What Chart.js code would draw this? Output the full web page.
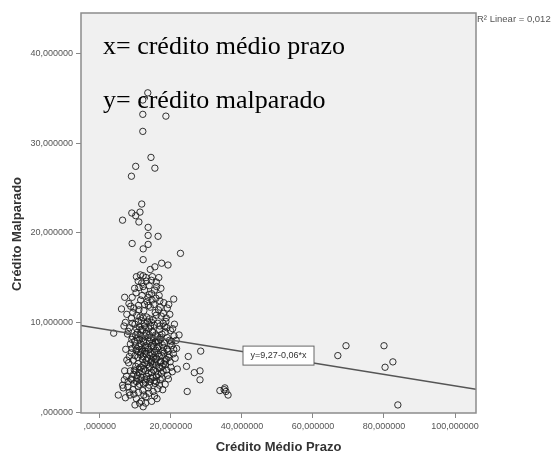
<!DOCTYPE html>
<html>
<head>
<meta charset="utf-8">
<script src="https://cdn.jsdelivr.net/npm/chart.js@4.4.0/dist/chart.umd.min.js"></script>
<style>
  html, body { margin: 0; padding: 0; background: #fff; }
  #wrap { width: 555px; height: 456px; position: relative; }
</style>
</head>
<body>
<div id="wrap"><canvas id="scatterChart" width="555" height="456"></canvas></div>
<script>
// Crédito Médio Prazo (x) e Crédito Malparado (y)
const creditoMedioPrazo = [
  13.5, 12.1, 12.1, 18.6, 12.1, 14.4, 10.1, 15.5, 8.9, 11.8,
  11.3, 9.0, 10.1, 6.4, 11.0, 13.6, 13.6, 16.4, 9.1, 13.6,
  12.2, 22.7, 12.2, 17.4, 19.2, 15.5, 14.2, 10.3, 12.2, 11.4,
  13.0, 14.8, 16.6, 11.8, 13.9, 15.9, 12.6, 17.2, 14.6, 7.0,
  9.1, 20.8, 11.5, 13.3, 15.8, 18.0, 8.2, 6.1, 9.6, 10.9,
  12.4, 14.2, 16.5, 19.0, 7.6, 19.7, 8.9, 10.4, 11.7, 13.2,
  15.0, 17.3, 18.6, 3.9, 22.3, 6.8, 8.4, 9.9, 11.1, 12.5,
  13.8, 15.3, 16.8, 18.3, 19.9, 21.0, 7.8, 9.2, 10.6, 11.9,
  13.1, 14.4, 15.7, 17.0, 18.4, 19.6, 20.9, 8.6, 9.8, 11.0,
  12.3, 13.5, 14.9, 16.2, 17.6, 18.9, 20.3, 21.6, 7.3, 8.9,
  10.2, 11.5, 12.8, 14.1, 15.4, 16.7, 18.1, 19.4, 20.7, 24.9,
  28.4, 9.4, 10.8, 12.0, 13.3, 14.6, 15.9, 17.2, 18.5, 19.8,
  8.1, 24.4, 9.7, 11.0, 12.4, 13.7, 15.1, 16.4, 17.8, 19.1,
  20.4, 26.6, 28.2, 7.5, 8.8, 10.3, 11.6, 12.9, 14.3, 15.6,
  17.0, 18.4, 28.2, 6.4, 7.9, 9.3, 10.8, 12.1, 13.6, 15.0,
  16.3, 6.6, 5.2, 7.2, 8.5, 9.9, 11.7, 14.6, 13.0, 24.6,
  33.8, 35.2, 35.5, 36.1, 35.0, 67.0, 69.3, 80.0, 82.5, 80.3,
  83.9, 10.5, 11.4, 12.7, 13.9, 14.9, 16.1, 17.5, 10.0, 11.8,
  12.9, 14.0, 15.2, 16.5, 17.9, 10.7, 12.2, 13.4, 14.7, 16.0,
  17.4, 18.7, 10.1, 11.4, 12.7, 14.0, 15.3, 16.7, 18.0, 10.6,
  11.9, 13.2, 14.6, 16.0, 17.3, 11.2, 12.5, 13.9, 15.3, 16.8,
  9.6, 12.0, 14.3, 16.3, 18.9, 13.4, 15.9, 11.3, 9.2, 20.2,
  19.2, 21.2, 20.0, 9.1, 8.3, 9.5, 8.6, 7.6, 12.6, 14.7,
  10.2, 16.7, 13.1, 11.0, 12.9, 10.3, 8.0, 17.7, 19.3, 21.8,
  10.9, 11.6, 12.4, 13.0, 13.7, 14.5, 15.1, 15.8, 16.6, 17.1,
  9.9, 10.4, 11.2, 12.0, 12.8, 13.6, 14.2, 15.0, 15.6, 16.3,
  17.7, 18.2, 19.0, 9.0, 10.1, 11.6, 12.9, 14.8, 16.9, 17.8,
  10.8, 12.2, 14.0, 15.6, 17.9, 9.3, 11.0, 13.7, 15.2, 16.9,
  11.9, 13.9, 15.4, 12.2, 14.5, 10.8, 9.8, 16.0, 8.7, 7.2,
  10.0, 11.1, 12.1, 12.9, 13.9, 14.9, 15.8, 16.9, 17.6, 18.8,
  10.4, 11.3, 12.2, 13.2, 14.1, 15.0, 15.9, 17.5, 9.1, 8.3,
  9.6, 10.9, 12.4, 13.8, 15.4, 16.1, 11.2, 12.2, 7.0, 6.9,
  18.4, 19.5, 19.8, 20.8, 21.5, 20.5, 18.7, 19.4, 17.0, 8.0,
  11.6, 13.1, 14.4, 15.6, 16.4, 17.1, 12.6, 14.6, 10.4, 13.6
];
const creditoMalparado = [
  35.6, 34.8, 33.2, 33.0, 31.3, 28.4, 27.4, 27.2, 26.3, 23.2,
  22.3, 22.2, 21.9, 21.4, 21.2, 20.6, 19.7, 19.6, 18.8, 18.7,
  18.2, 17.7, 17.0, 16.6, 16.4, 16.2, 15.9, 15.1, 15.2, 15.3,
  15.0, 15.1, 15.0, 14.4, 14.1, 14.5, 13.6, 13.8, 13.2, 12.8,
  12.8, 12.6, 12.5, 12.3, 12.7, 12.2, 12.1, 11.5, 11.6, 11.9,
  11.3, 11.7, 11.4, 11.6, 10.9, 10.9, 10.5, 10.8, 10.2, 10.6,
  10.3, 10.7, 10.1, 8.8, 8.6, 9.6, 9.4, 9.8, 9.5, 9.9,
  9.3, 9.7, 9.2, 9.6, 9.1, 9.8, 8.7, 8.4, 8.9, 8.2,
  8.8, 8.1, 8.6, 8.3, 8.9, 8.0, 8.5, 7.6, 7.9, 7.3,
  7.8, 7.2, 7.7, 7.1, 7.5, 7.0, 7.4, 7.1, 7.0, 6.6,
  6.9, 6.4, 6.8, 6.3, 6.7, 6.2, 6.6, 6.1, 6.5, 6.2,
  6.8, 5.8, 5.4, 5.9, 5.3, 5.8, 5.2, 5.7, 5.3, 5.6,
  5.5, 5.1, 4.7, 4.4, 4.8, 4.3, 4.7, 4.2, 4.6, 4.1,
  4.5, 4.4, 4.6, 4.0, 3.7, 3.4, 3.9, 3.3, 3.8, 3.2,
  3.6, 3.1, 3.6, 3.0, 2.8, 2.5, 2.9, 2.4, 2.7, 2.3,
  2.6, 2.7, 1.9, 1.6, 1.9, 0.8, 1.2, 1.2, 1.7, 2.3,
  2.4, 2.7, 2.3, 1.9, 2.5, 6.3, 7.4, 7.4, 5.6, 5.0,
  0.8, 8.3, 8.6, 8.5, 8.6, 8.9, 8.0, 8.7, 7.4, 7.0,
  7.4, 7.9, 7.3, 7.9, 7.2, 6.1, 6.2, 6.0, 6.5, 6.0,
  6.3, 5.9, 5.1, 5.0, 5.5, 5.1, 5.6, 5.0, 5.4, 4.1,
  4.5, 4.0, 4.4, 4.0, 4.3, 3.1, 3.6, 3.0, 3.5, 3.0,
  3.2, 9.1, 9.6, 9.9, 9.4, 10.1, 10.8, 10.6, 9.9, 7.9,
  6.8, 6.0, 5.0, 7.1, 6.2, 4.2, 4.6, 5.8, 12.0, 12.5,
  13.3, 13.0, 14.6, 13.9, 1.0, 1.5, 3.4, 2.5, 3.7, 4.8,
  6.7, 7.6, 8.0, 6.5, 7.0, 7.4, 8.2, 6.9, 7.3, 8.1,
  6.3, 7.1, 8.1, 6.8, 7.2, 8.3, 6.6, 6.1, 7.8, 8.4,
  6.8, 7.7, 8.3, 8.1, 8.6, 9.2, 9.4, 9.0, 9.6, 9.9,
  10.1, 10.5, 10.4, 11.1, 11.0, 11.1, 11.4, 11.9, 12.0, 12.4,
  13.0, 13.1, 13.6, 14.0, 14.7, 14.6, 13.8, 14.0, 11.8, 10.0,
  4.6, 4.8, 5.2, 4.6, 4.9, 5.3, 4.5, 4.9, 5.1, 4.7,
  3.8, 3.6, 3.2, 3.7, 3.4, 3.9, 3.4, 3.8, 3.6, 2.2,
  2.0, 2.2, 1.9, 2.1, 1.8, 1.5, 1.0, 0.6, 4.6, 3.6,
  5.7, 6.4, 7.6, 7.0, 8.0, 9.3, 10.5, 12.0, 11.7, 9.0,
  6.6, 5.8, 5.6, 5.9, 6.5, 5.5, 9.6, 10.0, 9.3, 12.8
];

const retaX = [-5.3, 105.9];
const retaY = [9.65, 2.55];

const xTicks = [0, 20, 40, 60, 80, 100];
const yTicks = [0, 10, 20, 30, 40];

const pontos = creditoMedioPrazo.map((x, i) => ({ x: x, y: creditoMalparado[i] }));
const reta = retaX.map((x, i) => ({ x: x, y: retaY[i] }));

const FONTE = '"Liberation Sans", Arial, sans-serif';

function formatoSpss(v) {
    // 20 -> "20,000000", 0 -> ",000000"
    return (v === 0 ? '' : String(v)) + ',000000';
}

// Fundo cinza, moldura, caixa da equação e textos soltos
const molduraPlugin = {
    id: 'moldura',
    beforeDraw(chart) {
        const a = chart.chartArea;
        const ctx = chart.ctx;
        ctx.save();
        ctx.fillStyle = '#f0f0f0';
        ctx.fillRect(a.left, a.top, a.right - a.left, a.bottom - a.top);
        ctx.restore();
    },
    afterDraw(chart) {
        const a = chart.chartArea;
        const ctx = chart.ctx;
        const xs = chart.scales.x, ys = chart.scales.y;
        ctx.save();
        ctx.strokeStyle = '#8c8c8c';
        ctx.lineWidth = 1.5;
        ctx.strokeRect(a.left, a.top, a.right - a.left, a.bottom - a.top);

        // caixa da equação
        const cx = xs.getPixelForValue(50.3), cy = ys.getPixelForValue(6.3);
        ctx.fillStyle = '#fff';
        ctx.fillRect(cx - 35.5, cy - 9.5, 71, 19);
        ctx.strokeStyle = '#666';
        ctx.lineWidth = 1;
        ctx.strokeRect(cx - 35.5, cy - 9.5, 71, 19);
        ctx.fillStyle = '#333';
        ctx.font = '9px ' + FONTE;
        ctx.textAlign = 'center';
        ctx.textBaseline = 'middle';
        ctx.fillText('y=9,27-0,06*x', cx, cy);

        // R² ao lado
        ctx.textAlign = 'left';
        ctx.font = '9.5px ' + FONTE;
        ctx.fillStyle = '#555';
        ctx.fillText('R\u00b2 Linear = 0,012', a.right + 1, a.top + 6);

        // título do eixo y
        ctx.save();
        ctx.translate(17, 234);
        ctx.rotate(-Math.PI / 2);
        ctx.textAlign = 'center';
        ctx.font = 'bold 13px ' + FONTE;
        ctx.fillStyle = '#333';
        ctx.fillText('Crédito Malparado', 0, 0);
        ctx.restore();

        // anotações em texto
        ctx.fillStyle = '#000';
        ctx.textBaseline = 'alphabetic';
        ctx.font = '26px "Liberation Serif", "Times New Roman", serif';
        ctx.fillText('x= crédito médio prazo', 103, 54);
        ctx.fillText('y= crédito malparado', 103, 108);
        ctx.restore();
    }
};

const ctx = document.getElementById('scatterChart').getContext('2d');
new Chart(ctx, {
    type: 'scatter',
    data: {
        datasets: [
            {
                label: 'Crédito Malparado',
                data: pontos,
                pointStyle: 'circle',
                pointRadius: 3.2,
                pointBorderWidth: 1,
                borderColor: 'rgba(30,30,30,0.9)',
                backgroundColor: 'rgba(0,0,0,0)',
                order: 2
            },
            {
                type: 'line',
                label: 'Linear',
                data: reta,
                borderColor: '#555',
                borderWidth: 1.5,
                pointRadius: 0,
                fill: false,
                order: 1
            }
        ]
    },
    options: {
        responsive: false,
        animation: false,
        layout: { padding: { top: 13, right: 79, left: 0, bottom: 0 } },
        plugins: {
            legend: { display: false },
            tooltip: { enabled: false }
        },
        scales: {
            x: {
                type: 'linear',
                min: -5.3,
                max: 105.9,
                afterFit(scale) { scale.height = 43; },
                afterBuildTicks(scale) { scale.ticks = xTicks.map(v => ({ value: v })); },
                grid: { drawOnChartArea: false, drawTicks: true, tickLength: 5, color: '#888' },
                border: { display: false },
                ticks: {
                    padding: 3,
                    color: '#555',
                    font: { family: FONTE, size: 9 },
                    callback: v => formatoSpss(v),
                    maxRotation: 0
                },
                title: {
                    display: true,
                    text: 'Crédito Médio Prazo',
                    color: '#333',
                    font: { family: FONTE, size: 13, weight: 'bold' },
                    padding: { top: 0, bottom: 1 }
                }
            },
            y: {
                type: 'linear',
                min: -0.1,
                max: 44.5,
                afterFit(scale) { scale.width = 81; },
                afterBuildTicks(scale) { scale.ticks = yTicks.map(v => ({ value: v })); },
                grid: { drawOnChartArea: false, drawTicks: true, tickLength: 5, color: '#888' },
                border: { display: false },
                ticks: {
                    padding: 3,
                    color: '#555',
                    font: { family: FONTE, size: 9 },
                    callback: v => formatoSpss(v)
                }
            }
        }
    },
    plugins: [molduraPlugin]
});
</script>
</body>
</html>
